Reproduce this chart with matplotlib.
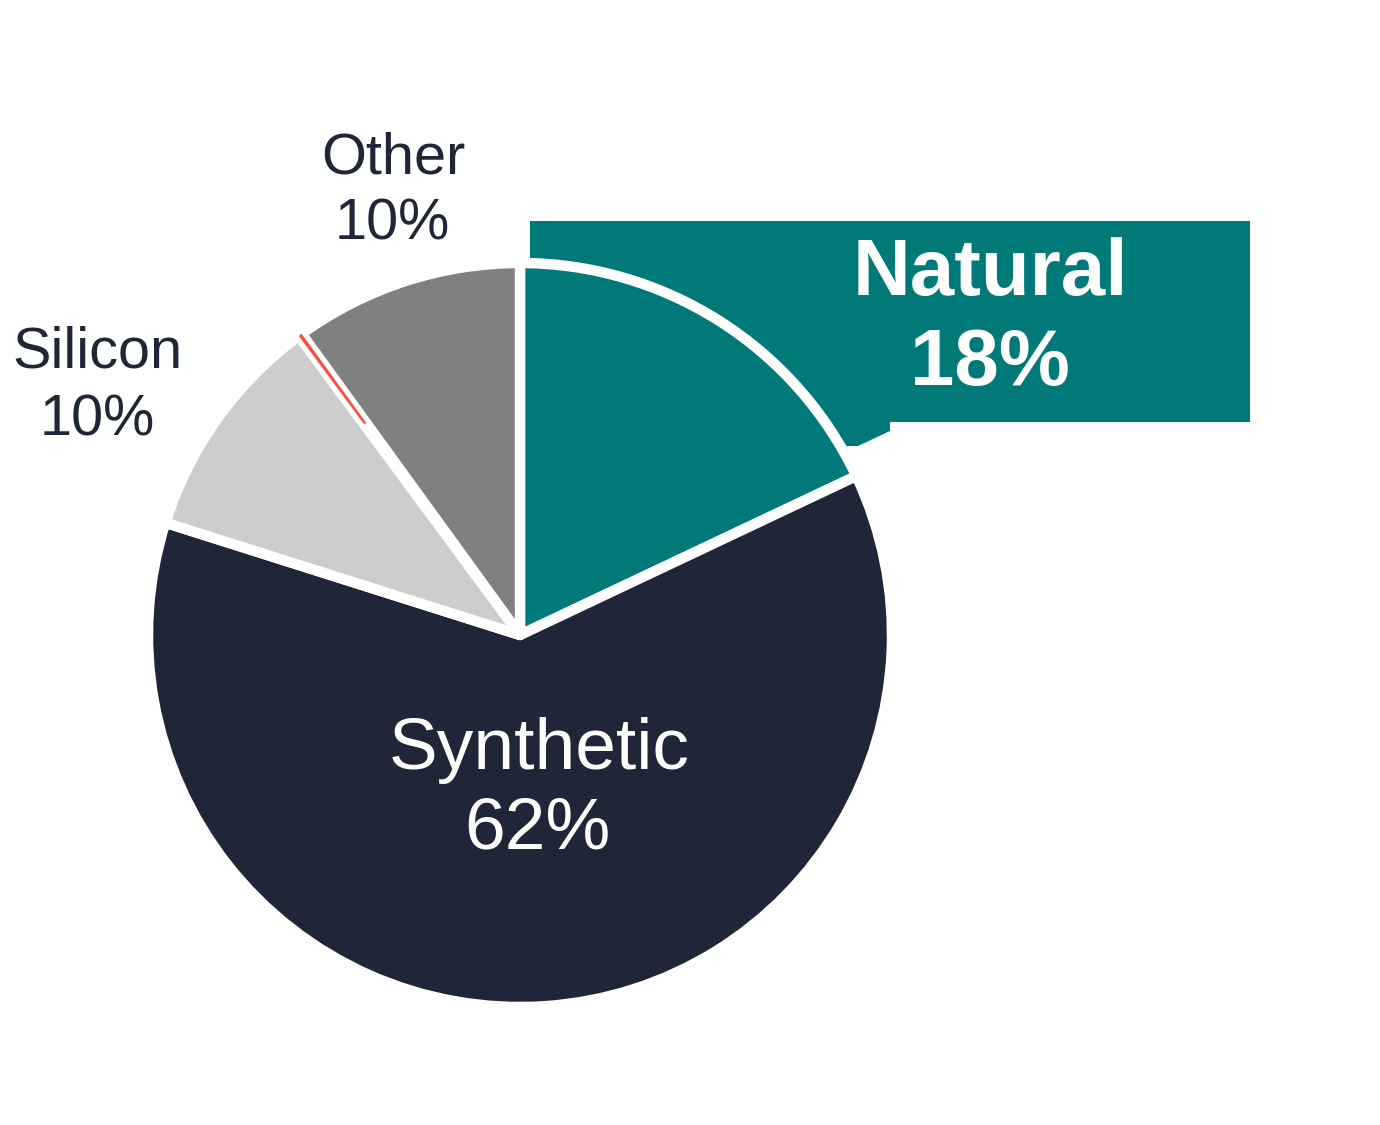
import matplotlib.pyplot as plt
from matplotlib.patches import Rectangle, Polygon

plt.rcParams['font.family'] = ['Liberation Sans', 'DejaVu Sans']

labels = ["Natural", "Synthetic", "Silicon", "", "Other"]
values = [18, 62, 10, 0.15, 10]
colors = ["#007A78", "#1F2637", "#CDCDCD", "#FF2A1A", "#808080"]

fig = plt.figure(figsize=(13.8, 11.25), dpi=100)
ax = fig.add_axes([0, 0, 1, 1])
ax.set_xlim(0, 1380)
ax.set_ylim(0, 1125)
ax.set_aspect('equal')
ax.axis('off')

# callout box behind the Natural slice
ax.add_patch(Rectangle((530, 1125 - 422), 720, 201, facecolor="#007A78",
                       edgecolor="none", zorder=0))
ax.add_patch(Polygon([(830, 1125 - 421), (890, 1125 - 421), (890, 1125 - 431),
                      (858, 1125 - 446), (830, 1125 - 446)],
                     facecolor="#007A78", edgecolor="none", zorder=0))

wedges, _ = ax.pie(values, colors=colors, startangle=90, counterclock=False,
                   center=(520, 490), radius=372, frame=True,
                   wedgeprops=dict(edgecolor="white", linewidth=7.5,
                                   joinstyle='round'))
for w in wedges:
    w.set_zorder(1)
# thin red sliver sits inside the white gap, only near the rim
wedges[3].set_linewidth(0)
wedges[3].set_width(110)
wedges[3].set_alpha(0.85)
wedges[3].set_zorder(2)

ax.set_xlim(0, 1380)
ax.set_ylim(0, 1125)
ax.axis('off')

ax.text(393, 1125 - 158, "Other", ha='center', va='center', fontsize=41.5,
        color="#1F2637")
ax.text(392, 1125 - 225, "10%", ha='center', va='center', fontsize=41.5,
        color="#1F2637")
ax.text(97, 1125 - 353, "Silicon", ha='center', va='center', fontsize=41.5,
        color="#1F2637")
ax.text(97, 1125 - 420, "10%", ha='center', va='center', fontsize=41.5,
        color="#1F2637")
ax.text(990, 1125 - 275, "Natural", ha='center', va='center', fontsize=57.5,
        fontweight='bold', color="white", zorder=3)
ax.text(990, 1125 - 365, "18%", ha='center', va='center', fontsize=57.5,
        fontweight='bold', color="white", zorder=3)
ax.text(539, 1125 - 750, "Synthetic", ha='center', va='center', fontsize=52.7,
        color="white", zorder=3)
ax.text(537, 1125 - 830, "62%", ha='center', va='center', fontsize=52.7,
        color="white", zorder=3)

fig.savefig("out.png", dpi=100, facecolor="white")
